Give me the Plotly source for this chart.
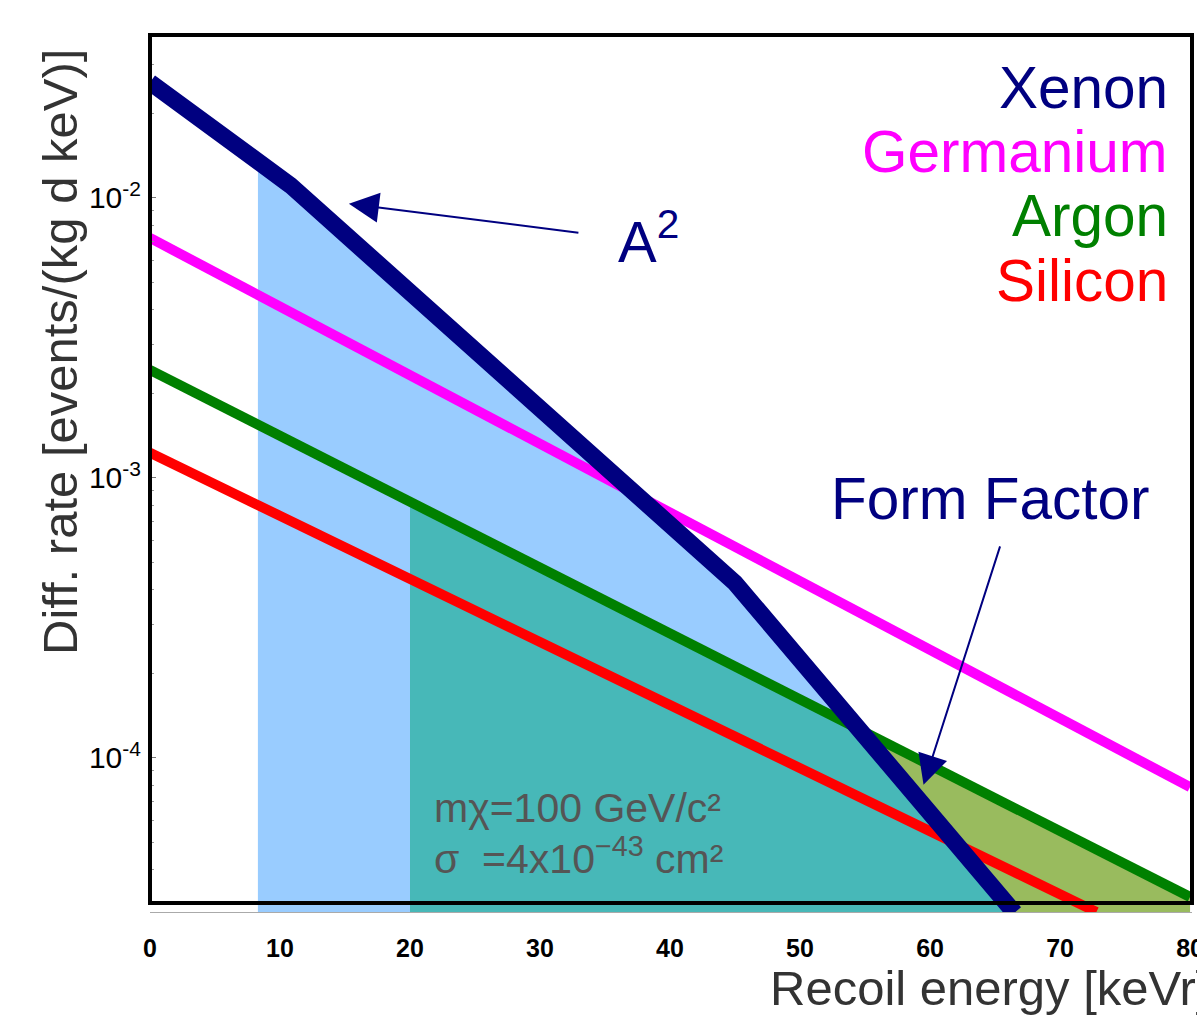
import numpy as np
import plotly.graph_objects as go

# ---------------- data ----------------
energy_xe = [0.0, 10.8, 45.0, 66.5]
rate_xe = [2.59e-2, 1.11e-2, 4.22e-4, 2.8e-5]

energy_ge = [0.0, 80.0]
rate_ge = [7.2e-3, 7.87e-5]

energy_ar = [0.0, 80.0]
rate_ar = [2.43e-3, 3.19e-5]

energy_si = [0.0, 72.8]
rate_si = [1.23e-3, 2.82e-5]

a2_band_start = 8.3      # keVr, start of light-blue band
ff_band_start = 20.0     # keVr, start of teal / olive band

x_ticks = [0, 10, 20, 30, 40, 50, 60, 70, 80]
x_ticktext = ["0", "10", "20", "30", "40", "50", "60", "70", "80"]
y_ticks = [1e-4, 1e-3, 1e-2]
y_ticktext = ["10<sup>-4</sup>", "10<sup>-3</sup>", "10<sup>-2</sup>"]
y_minor = [m * 10.0 ** e for e in (-5, -4, -3, -2) for m in (2, 3, 4, 5, 6, 7, 8, 9)]

legend_names = ["Xenon", "Germanium", "Argon", "Silicon"]
legend_colors = ["#000080", "#ff00ff", "#008000", "#ff0000"]

# ---------------- helpers ----------------
W, H = 1197, 1018
L, R, T, B = 150, 1192, 35, 912
FLOOR = 1e-7


def loginterp(x, xs, ys):
    return 10 ** np.interp(x, xs, np.log10(ys))


def px(xp):
    return (xp - L) / (R - L)


def py(yp):
    return (B - yp) / (B - T)


fig = go.Figure()


def band(xgrid, upper, color):
    xs = list(xgrid) + [xgrid[-1], xgrid[0]]
    ys = list(upper) + [FLOOR, FLOOR]
    fig.add_trace(go.Scatter(x=xs, y=ys, mode="lines", fill="toself",
                             fillcolor=color, line=dict(width=0, color=color),
                             hoverinfo="skip", showlegend=False))


# light-blue band under xenon
g1 = np.linspace(a2_band_start, energy_xe[-1], 800)
band(g1, loginterp(g1, energy_xe, rate_xe), "#99ccff")

# olive band under argon
g2 = np.linspace(ff_band_start, energy_ar[-1], 800)
band(g2, loginterp(g2, energy_ar, rate_ar), "#99bb5e")

# teal band under min(argon, xenon)
g3 = np.linspace(ff_band_start, energy_xe[-1], 800)
band(g3, np.minimum(loginterp(g3, energy_ar, rate_ar),
                    loginterp(g3, energy_xe, rate_xe)), "#47b8b8")

# lines
for ex, rt, col, w in [(energy_si, rate_si, "#ff0000", 10),
                       (energy_ar, rate_ar, "#008000", 10),
                       (energy_ge, rate_ge, "#ff00ff", 10),
                       (energy_xe, rate_xe, "#000080", 17)]:
    fig.add_trace(go.Scatter(x=ex, y=rt, mode="lines",
                             line=dict(color=col, width=w),
                             hoverinfo="skip", showlegend=False))

FONT = "Liberation Sans, Arial, sans-serif"
ann = []

# legend-like labels
for i, (name, col) in enumerate(zip(legend_names, legend_colors)):
    ann.append(dict(text=name, x=px(1170), y=py(87 + 64.5 * i), xref="paper", yref="paper",
                    xanchor="right", yanchor="middle", showarrow=False,
                    font=dict(family=FONT, size=58.5, color=col)))

ann.append(dict(text="A<sup>2</sup>", x=px(616), y=py(237), xref="paper", yref="paper",
                xanchor="left", yanchor="middle", showarrow=False,
                font=dict(family=FONT, size=58, color="#000080")))
ann.append(dict(text="Form Factor", x=px(829), y=py(498), xref="paper", yref="paper",
                xanchor="left", yanchor="middle", showarrow=False,
                font=dict(family=FONT, size=58.5, color="#000080")))

ann.append(dict(text="mχ=100 GeV/c²", x=px(432), y=py(808), xref="paper", yref="paper",
                xanchor="left", yanchor="middle", showarrow=False,
                font=dict(family=FONT, size=41, color="#555555")))
ann.append(dict(text="σ  =4x10<sup>−43</sup> cm²", x=px(432), y=py(856), xref="paper", yref="paper",
                xanchor="left", yanchor="middle", showarrow=False,
                font=dict(family=FONT, size=41, color="#555555")))

# arrows (tip in data coords: x in keVr, y as log10 of rate)
ann.append(dict(text="", x=15.3, y=-2.021, xref="x", yref="y",
                ax=231, ay=29, showarrow=True, arrowhead=2, arrowsize=3,
                arrowwidth=2, arrowcolor="#000080", standoff=0))
ann.append(dict(text="", x=59.5, y=-4.096, xref="x", yref="y",
                ax=77, ay=-240, showarrow=True, arrowhead=2, arrowsize=3,
                arrowwidth=2, arrowcolor="#000080", standoff=0))

# axis titles
ann.append(dict(text="Diff. rate [events/(kg d keV)]", x=px(60), y=py(352),
                xref="paper", yref="paper", textangle=-90, showarrow=False,
                xanchor="center", yanchor="middle",
                font=dict(family=FONT, size=49, color="#333333")))
ann.append(dict(text="Recoil energy [keVr]", x=px(768), y=py(988),
                xref="paper", yref="paper", showarrow=False,
                xanchor="left", yanchor="middle",
                font=dict(family=FONT, size=49, color="#333333")))

fig.update_layout(
    width=W, height=H,
    margin=dict(l=L, r=W - R, t=T, b=H - B, autoexpand=False),
    paper_bgcolor="white", plot_bgcolor="white",
    annotations=ann,
    shapes=[dict(type="rect", xref="paper", yref="paper",
                 x0=0, x1=1, y0=py(903), y1=1,
                 line=dict(color="black", width=4), layer="above")],
    showlegend=False,
)

fig.update_xaxes(range=[0, 80.15], tickvals=x_ticks, ticktext=x_ticktext,
                 automargin=False,
                 showgrid=False, zeroline=False, showline=True, linecolor="#aaaaaa",
                 linewidth=1, ticks="", ticklabelstandoff=14, ticklabeloverflow="allow",
                 tickfont=dict(family=FONT, size=25, color="black", weight="bold"))
fig.update_yaxes(type="log", range=[-4.55, -1.418], tickvals=y_ticks, ticktext=y_ticktext,
                 automargin=False,
                 showgrid=False, zeroline=False, showline=False,
                 ticks="inside", ticklen=6, tickcolor="#777777", ticklabelstandoff=8,
                 minor=dict(tickmode="array", tickvals=y_minor, ticks="inside",
                            ticklen=4, tickcolor="#999999"),
                 tickfont=dict(family=FONT, size=30, color="black"))

fig.write_html("out.html", config={"displayModeBar": False},
               post_script="document.body.style.margin='0';document.body.style.overflow='hidden';")
